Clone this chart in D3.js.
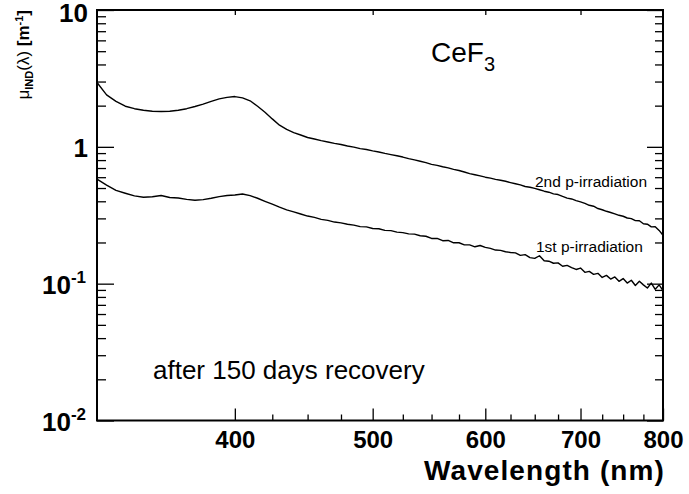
<!DOCTYPE html>
<html><head><meta charset="utf-8">
<script src="https://cdn.jsdelivr.net/npm/d3@7"></script>
<style>
body{margin:0;background:#fff;}
svg{display:block;font-family:"Liberation Sans",Arial,Helvetica,sans-serif;}
</style></head>
<body>
<svg id="c" width="689" height="494"></svg>
<script>
// ---- data ----
const wavelength = d3.range(320, 801, 5);
const irr2 = [2.95,2.40,2.15,1.98,1.90,1.85,1.82,1.81,1.82,1.85,1.90,1.97,2.05,2.15,2.24,2.30,2.33,2.28,2.17,1.98,
1.79,1.60,1.44,1.34,1.27,1.22,1.17,1.14,1.11,1.085,1.06,1.04,1.015,0.995,0.97,0.957,0.935,0.917,0.895,0.877,
0.86,0.842,0.82,0.803,0.785,0.767,0.745,0.732,0.715,0.702,0.685,0.672,0.655,0.637,0.625,0.614,0.60,0.591,0.578,0.570,
0.56,0.548,0.537,0.527,0.513,0.507,0.497,0.486,0.474,0.466,0.453,0.448,0.434,0.422,0.416,0.405,0.396,0.386,0.374,0.368,
0.354,0.347,0.338,0.331,0.324,0.316,0.311,0.302,0.299,0.289,0.288,0.274,0.272,0.260,0.261,0.245,0.226];
const irr1 = [0.58,0.525,0.48,0.458,0.438,0.428,0.432,0.441,0.426,0.423,0.413,0.407,0.411,0.421,0.433,0.441,0.445,0.452,0.440,0.421,
0.40,0.381,0.362,0.346,0.335,0.323,0.312,0.305,0.295,0.290,0.282,0.278,0.272,0.268,0.261,0.260,0.253,0.252,0.245,0.244,
0.238,0.236,0.231,0.230,0.224,0.222,0.214,0.214,0.206,0.207,0.199,0.199,0.192,0.192,0.186,0.190,0.184,0.181,0.176,0.175,
0.171,0.169,0.168,0.161,0.163,0.155,0.153,0.160,0.147,0.146,0.141,0.142,0.134,0.136,0.131,0.127,0.130,0.121,0.123,0.117,
0.119,0.111,0.115,0.108,0.112,0.104,0.109,0.101,0.106,0.097,0.104,0.098,0.093,0.101,0.091,0.098,0.089];
const xMajorTicks = [400, 500, 600, 700, 800];
const xMinorTicks = [425, 450, 475, 525, 550, 575, 625, 650, 675, 725, 750, 775];
const yMajorTicks = [0.01, 0.1, 1, 10];
const yTickBase = ["10", "10", "1", "10"];
const yTickExp = ["-2", "-1", "", ""];
const yMinorTicks = [];
[0.01, 0.1, 1].forEach(d => { for (let k = 2; k <= 9; k++) yMinorTicks.push(+(d * k).toPrecision(3)); });

// ---- layout ----
const svg = d3.select("#c");
const L = 97, R = 663, T = 10, B = 420.5;
const x = d3.scaleLog().domain([320, 800]).range([L, R]);
const y = d3.scaleLog().domain([0.01, 10]).range([B, T]);

// curves
const line = d3.line().x((d, i) => x(wavelength[i])).y(d => y(d));
[irr2, irr1].forEach(s => {
  svg.append("path").datum(s).attr("d", line).attr("fill", "none")
     .attr("stroke", "#000").attr("stroke-width", 1.4).attr("stroke-linejoin", "round");
});

// frame
svg.append("rect").attr("x", L).attr("y", T).attr("width", R - L).attr("height", B - T)
   .attr("fill", "none").attr("stroke", "#000").attr("stroke-width", 2);

function ticks(g, axis) { g.call(axis); g.select(".domain").remove(); g.selectAll("line").attr("stroke-width", 1.3); }
ticks(svg.append("g").attr("transform", `translate(${L},0)`), d3.axisRight(y).tickValues(yMajorTicks).tickSize(17).tickFormat(""));
ticks(svg.append("g").attr("transform", `translate(${L},0)`), d3.axisRight(y).tickValues(yMinorTicks).tickSize(9).tickFormat(""));
ticks(svg.append("g").attr("transform", `translate(${R},0)`), d3.axisLeft(y).tickValues(yMajorTicks).tickSize(16).tickFormat(""));
ticks(svg.append("g").attr("transform", `translate(${R},0)`), d3.axisLeft(y).tickValues(yMinorTicks).tickSize(8).tickFormat(""));
ticks(svg.append("g").attr("transform", `translate(0,${B})`), d3.axisTop(x).tickValues(xMajorTicks).tickSize(12).tickFormat(""));
ticks(svg.append("g").attr("transform", `translate(0,${B})`), d3.axisTop(x).tickValues(xMinorTicks).tickSize(6).tickFormat(""));
ticks(svg.append("g").attr("transform", `translate(0,${T})`), d3.axisBottom(x).tickValues(xMajorTicks.slice(0, 4)).tickSize(5).tickFormat(""));

// x tick labels
const xl = svg.append("g").attr("transform", `translate(0,${B})`)
  .call(d3.axisBottom(x).tickValues(xMajorTicks).tickSize(0).tickPadding(10).tickFormat(d3.format("d")));
xl.select(".domain").remove();
xl.selectAll("text").attr("font-size", 24).attr("font-weight", "bold").attr("fill", "#000")
  .attr("font-family", '"Liberation Sans",Arial,sans-serif').attr("dy", "0.71em");

// y tick labels
yMajorTicks.forEach((v, i) => {
  const t = svg.append("text").attr("x", 88).attr("y", Math.max(y(v) + 10, 22))
    .attr("text-anchor", "end").attr("font-size", 26).attr("font-weight", "bold");
  if (yTickExp[i]) {
    t.attr("x", 86);
    t.append("tspan").text(yTickBase[i]);
    t.append("tspan").attr("font-size", 17).attr("dy", -11).text(yTickExp[i]);
  } else t.text(yTickBase[i]);
});

// axis titles
svg.append("text").attr("x", 665).attr("y", 480).attr("text-anchor", "end")
  .attr("font-size", 28).attr("font-weight", "bold").attr("letter-spacing", 1.1).text("Wavelength (nm)");
const yt = svg.append("text").attr("transform", "translate(29,10) rotate(-90)")
  .attr("text-anchor", "end").attr("font-size", 17);
yt.append("tspan").text("\u03bc");
yt.append("tspan").attr("font-size", 11).attr("font-weight", "bold").attr("dy", 4).text("IND");
yt.append("tspan").attr("dy", -4).text("(\u03bb) ");
yt.append("tspan").attr("font-weight", "bold").text("[m");
yt.append("tspan").attr("font-size", 11).attr("font-weight", "bold").attr("dy", -6).text("-1");
yt.append("tspan").attr("font-weight", "bold").attr("dy", 6).text("]");

// annotations
const ce = svg.append("text").attr("x", 431).attr("y", 62).attr("font-size", 28);
ce.append("tspan").text("CeF");
ce.append("tspan").attr("font-size", 20).attr("dy", 9).text("3");
svg.append("text").attr("x", 535).attr("y", 187).attr("font-size", 15.5).text("2nd p-irradiation");
svg.append("text").attr("x", 536).attr("y", 252).attr("font-size", 15.5).text("1st p-irradiation");
svg.append("text").attr("x", 153).attr("y", 379).attr("font-size", 26).text("after 150 days recovery");
</script>
</body></html>
